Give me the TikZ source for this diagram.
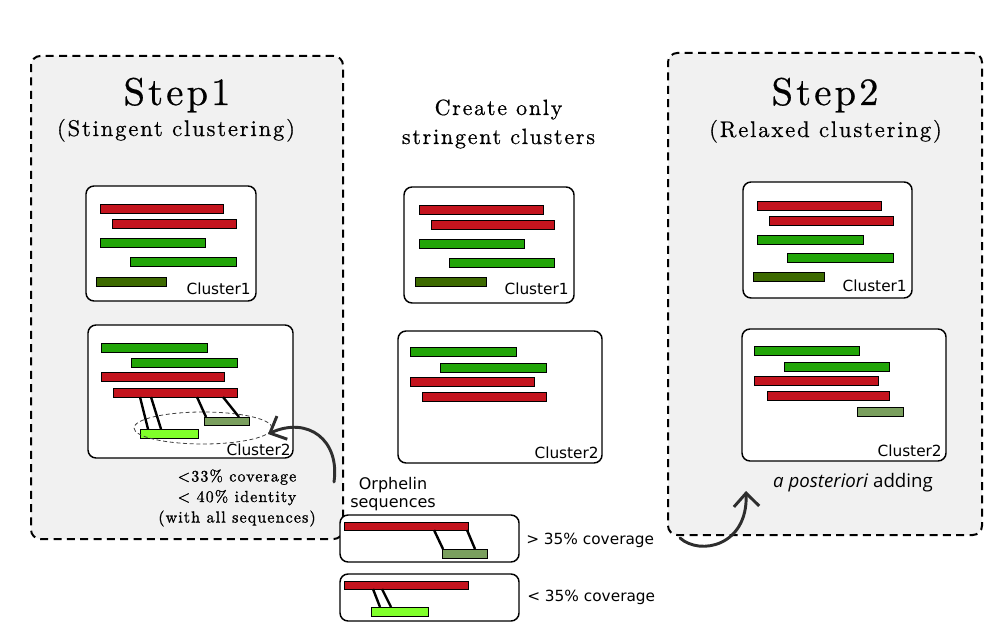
\documentclass[tikz,border=0pt]{standalone}
\usepackage{fontspec}
\newfontfamily\dvs{DejaVu Sans}
\newfontfamily\osans{Open Sans}
\newfontfamily\lms{lmroman10-regular.otf}[LetterSpace=8, FakeBold=0.6]
\newfontfamily\lmsnote{lmroman10-regular.otf}[LetterSpace=7, FakeBold=1.2]
\usetikzlibrary{calc,arrows.meta,shapes.geometric}

\definecolor{seqred}{HTML}{C4141E}
\definecolor{seqgreen}{HTML}{22A508}
\definecolor{seqdark}{HTML}{3D6A00}
\definecolor{seqlime}{HTML}{80FF2A}
\definecolor{seqgray}{HTML}{7A9F5E}
\definecolor{panelfill}{HTML}{F1F1F1}
\definecolor{arrowgray}{HTML}{2E2E2E}

\tikzset{
  panel/.style={draw=black, dash pattern=on 6pt off 4pt, line width=1.5pt, fill=panelfill, rounded corners=7pt, inner sep=0pt, outer sep=0pt},
  clbox/.style={draw=black, line width=1.1pt, fill=white, rounded corners=6pt, inner sep=0pt, outer sep=0pt},
  seqbar/.style={draw=black, line width=0.6pt, inner sep=0pt, outer sep=0pt},
  redbar/.style={seqbar, fill=seqred},
  greenbar/.style={seqbar, fill=seqgreen},
  darkbar/.style={seqbar, fill=seqdark},
  limebar/.style={seqbar, fill=seqlime},
  graybar/.style={seqbar, fill=seqgray},
  link/.style={line width=1.8pt, black},
  cllabel/.style={font=\dvs\fontsize{11.5}{13}\selectfont, inner sep=0pt, anchor=base east},
  bigtitle/.style={font=\lms\fontsize{29}{34}\selectfont, anchor=base, inner sep=0pt},
  subtitle/.style={font=\lms\fontsize{17}{20}\selectfont, anchor=base, inner sep=0pt},
  serifnote/.style={font=\lmsnote\fontsize{12}{15.4}\selectfont, align=center, inner sep=0pt},
  sansnote/.style={font=\dvs\fontsize{11.5}{13.5}\selectfont, inner sep=0pt},
  curvearrow/.style={line width=2.2pt, draw=arrowgray, line cap=round, -{Straight Barb[length=10pt, width=19pt]}},
  orphellipse/.style={ellipse, draw=black!75, dash pattern=on 3pt off 2pt, line width=0.6pt, inner sep=0pt},
}

\newcommand{\mkbox}[6]{\node[#6, minimum width={(#4-#2)*0.75pt}, minimum height={(#5-#3)*0.75pt}, anchor=north west] (#1) at (#2,#3) {};}

\begin{document}
\begin{tikzpicture}[x=0.75pt,y=-0.75pt]
\useasboundingbox (0,0) rectangle (992,634);

% panels
\mkbox{p1}{31}{56}{343}{539}{panel}
\mkbox{p2}{668}{53}{982}{535}{panel}

% titles
\node[bigtitle] (t1) at (177,105) {Step1};
\node[subtitle] (t1s) at (176,136) {(Stingent clustering)};
\node[bigtitle] (t2) at (825,105) {Step2};
\node[subtitle] (t2s) at (825.5,137) {(Relaxed clustering)};
\node[font=\lms\fontsize{16.5}{21.75}\selectfont, align=center, inner sep=0pt] (mid) at (498.5,124) {Create only\\stringent clusters};

% Step1 cluster1
\mkbox{sa}{86}{186}{256}{301}{clbox}
\mkbox{sa1}{100}{204}{223}{213}{redbar}
\mkbox{sa2}{112}{219}{236}{228}{redbar}
\mkbox{sa3}{100}{238}{205}{247}{greenbar}
\mkbox{sa4}{130}{257}{236}{266}{greenbar}
\mkbox{sa5}{96}{277}{166}{286}{darkbar}
\node[cllabel] (sal) at (251,295) {Cluster1};

% Step1 cluster2
\mkbox{sb}{88}{325}{293}{458}{clbox}
\mkbox{sb1}{101}{343}{207}{352}{greenbar}
\mkbox{sb2}{131}{358}{237}{367}{greenbar}
\mkbox{sb3}{101}{372}{224}{381}{redbar}
\mkbox{sb4}{113}{388}{237}{397}{redbar}
\mkbox{sb5}{140}{429}{198}{438}{limebar}
\mkbox{sb6}{204}{417}{249}{425}{graybar}
\node[orphellipse, minimum width=103.5pt, minimum height=24pt] (orph) at (203,428) {};
\draw[link] ($(sb4.south west)+(27,0)$) -- ($(sb5.north west)+(8,0)$);
\draw[link] ($(sb4.south west)+(38,0)$) -- ($(sb5.north west)+(21,0)$);
\draw[link] ($(sb4.south west)+(84,0)$) -- ($(sb6.north west)+(2,0)$);
\draw[link] ($(sb4.south west)+(110,0)$) -- ($(sb6.north west)+(35,0)$);
\node[cllabel] (sbl) at (291,455) {Cluster2};

\node[serifnote] (cond) at (237,498) {<33\% coverage\\< 40\% identity\\(with all sequences)};

% Middle cluster1
\mkbox{ma}{404}{187}{574}{303}{clbox}
\mkbox{ma1}{419}{205}{543}{214}{redbar}
\mkbox{ma2}{431}{220}{554}{229}{redbar}
\mkbox{ma3}{419}{239}{524}{248}{greenbar}
\mkbox{ma4}{449}{258}{554}{267}{greenbar}
\mkbox{ma5}{415}{277}{486}{286}{darkbar}
\node[cllabel] (mal) at (569,295) {Cluster1};

% Middle cluster2
\mkbox{mb}{398}{331}{602}{463}{clbox}
\mkbox{mb1}{410}{347}{516}{356}{greenbar}
\mkbox{mb2}{440}{363}{546}{372}{greenbar}
\mkbox{mb3}{410}{377}{534}{386}{redbar}
\mkbox{mb4}{422}{392}{546}{401}{redbar}
\node[cllabel] (mbl) at (599,458) {Cluster2};

% Step2 cluster1
\mkbox{ra}{743}{182}{912}{298}{clbox}
\mkbox{ra1}{757}{201}{881}{210}{redbar}
\mkbox{ra2}{769}{216}{893}{225}{redbar}
\mkbox{ra3}{757}{235}{863}{244}{greenbar}
\mkbox{ra4}{787}{253}{893}{262}{greenbar}
\mkbox{ra5}{753}{272}{824}{281}{darkbar}
\node[cllabel] (ral) at (907,292) {Cluster1};

% Step2 cluster2
\mkbox{rb}{742}{329}{946}{461}{clbox}
\mkbox{rb1}{754}{346}{859}{355}{greenbar}
\mkbox{rb2}{784}{362}{889}{371}{greenbar}
\mkbox{rb3}{754}{376}{878}{385}{redbar}
\mkbox{rb4}{767}{391}{889}{400}{redbar}
\mkbox{rb5}{857}{407}{903}{416}{graybar}
\node[cllabel] (rbl) at (942,456) {Cluster2};

\node[font=\osans\fontsize{14}{16}\selectfont, inner sep=0pt] (post) at (853,483) {\textit{a posteriori} adding};

% Orphelin sequences
\node[font=\dvs\fontsize{12}{13.5}\selectfont, align=center, inner sep=0pt] (orl) at (393,494) {Orphelin\\sequences};
\mkbox{oa}{340}{515}{519}{562}{clbox}
\mkbox{oa1}{344}{522}{468}{530}{redbar}
\mkbox{oa2}{442}{549}{487}{558}{graybar}
\draw[link] ($(oa1.south west)+(90,0)$) -- ($(oa2.north west)+(1,0)$);
\draw[link] ($(oa1.south west)+(123,0)$) -- ($(oa2.north west)+(33,0)$);
\node[sansnote, anchor=west] (oal) at (526,540) {> 35\% coverage};

\mkbox{ob}{340}{574}{519}{621}{clbox}
\mkbox{ob1}{344}{581}{468}{589}{redbar}
\mkbox{ob2}{371}{607}{428}{616}{limebar}
\draw[link] ($(ob1.south west)+(29,0)$) -- ($(ob2.north west)+(9,0)$);
\draw[link] ($(ob1.south west)+(38,0)$) -- ($(ob2.north west)+(20,0)$);
\node[sansnote, anchor=west] (obl) at (527,597) {< 35\% coverage};

% curved arrows
\coordinate (a1s) at (334,482);
\coordinate (a1e) at (268,434);
\draw[curvearrow] (a1s) .. controls (340,440) and (308,416) .. (a1e);
\coordinate (a2s) at (680,538);
\coordinate (a2e) at (746,491);
\draw[curvearrow] (a2s) .. controls (700,556) and (748,546) .. (a2e);
\end{tikzpicture}
\end{document}
